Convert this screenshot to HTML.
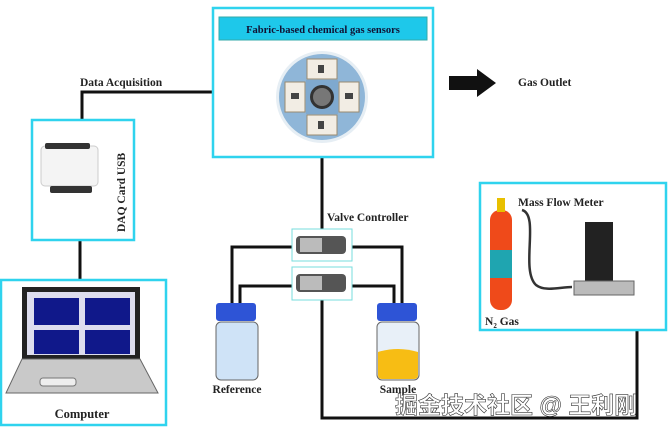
<!DOCTYPE html>
<html><head><meta charset="utf-8"><style>
html,body{margin:0;padding:0;background:#fff}
svg{display:block}
text{font-family:"Liberation Serif",serif;font-weight:bold}
</style></head><body>
<svg width="671" height="432" viewBox="0 0 671 432" xmlns="http://www.w3.org/2000/svg">
<rect width="671" height="432" fill="#fff"/>
<g stroke="#111" stroke-width="3" fill="none">
<polyline points="214,92 82,92 82,120"/>
<line x1="80" y1="240" x2="80" y2="281"/>
<line x1="322" y1="157" x2="322" y2="230"/>
<polyline points="293,247 232,247 232,305"/>
<polyline points="293,286 240,286 240,305"/>
<polyline points="351,247 402,247 402,305"/>
<polyline points="351,286 394,286 394,305"/>
<polyline points="322,300 322,418 637,418 637,288"/>
</g>
<rect x="213" y="8" width="220" height="149" fill="#fff" stroke="#2fd3ee" stroke-width="2.5"/>
<rect x="219" y="17" width="208" height="23" fill="#1ec8ea" stroke="#3aa" stroke-width="1"/>
<text x="323" y="33" font-size="10.5" text-anchor="middle" fill="#113">Fabric-based chemical gas sensors</text>
<circle cx="322" cy="97" r="46" fill="#e6eef4"/>
<circle cx="322" cy="97" r="43" fill="#8fb6d8"/>
<rect x="306" y="80" width="32" height="34" fill="#7fa9cf"/>
<circle cx="322" cy="97" r="12" fill="#333"/><circle cx="322" cy="97" r="9" fill="#777"/>
<g fill="#f2ede4" stroke="#9a8a70" stroke-width="1">
<rect x="307" y="59" width="30" height="20"/><rect x="307" y="115" width="30" height="20"/>
<rect x="285" y="82" width="20" height="30"/><rect x="339" y="82" width="20" height="30"/>
</g>
<g fill="#444"><rect x="318" y="65" width="6" height="8"/><rect x="318" y="121" width="6" height="8"/><rect x="291" y="93" width="8" height="6"/><rect x="345" y="93" width="8" height="6"/></g>
<polygon points="449,76 477,76 477,69 496,83 477,97 477,90 449,90" fill="#111"/>
<text x="518" y="86" font-size="11.5" fill="#222">Gas Outlet</text>
<text x="80" y="86" font-size="11.5" fill="#222">Data Acquisition</text>
<rect x="32" y="120" width="102" height="120" fill="#fff" stroke="#2fd3ee" stroke-width="2.5"/>
<rect x="41" y="146" width="57" height="40" rx="4" fill="#f4f4f4" stroke="#ccc"/>
<rect x="45" y="143" width="45" height="6" rx="2" fill="#333"/>
<rect x="50" y="186" width="42" height="7" rx="2" fill="#333"/>
<text transform="translate(125,232) rotate(-90)" font-size="11.5" fill="#222">DAQ Card USB</text>
<rect x="1" y="280" width="165" height="145" fill="#fff" stroke="#2fd3ee" stroke-width="2.5"/>
<rect x="22" y="287" width="118" height="72" fill="#222"/>
<rect x="27" y="292" width="108" height="63" fill="#dde"/>
<g fill="#10188a"><rect x="34" y="298" width="45" height="27"/><rect x="85" y="298" width="45" height="27"/><rect x="34" y="330" width="45" height="24"/><rect x="85" y="330" width="45" height="24"/></g>
<polygon points="22,359 140,359 158,393 6,393" fill="#c9c9c9" stroke="#666"/>
<rect x="40" y="378" width="36" height="8" rx="3" fill="#eee" stroke="#777"/>
<text x="82" y="418" font-size="12.5" text-anchor="middle" fill="#222">Computer</text>
<g stroke="#7dd" stroke-width="1" fill="#fff">
<rect x="292" y="229" width="60" height="32"/><rect x="292" y="267" width="60" height="33"/></g>
<g fill="#555"><rect x="296" y="236" width="50" height="18" rx="4"/><rect x="296" y="274" width="50" height="18" rx="4"/></g>
<g fill="#bbb"><rect x="300" y="238" width="22" height="14"/><rect x="300" y="276" width="22" height="14"/></g>
<text x="327" y="221" font-size="11.5" fill="#222">Valve Controller</text>
<rect x="216" y="303" width="40" height="18" rx="3" fill="#2e54d6"/>
<rect x="216" y="322" width="42" height="58" rx="5" fill="#cfe3f7" stroke="#666"/>
<rect x="377" y="303" width="40" height="18" rx="3" fill="#2e54d6"/>
<rect x="377" y="322" width="42" height="58" rx="5" fill="#e8f0f8" stroke="#666"/>
<path d="M378,352 Q398,346 418,352 L418,375 Q418,379 414,379 L382,379 Q378,379 378,375Z" fill="#f7bd14"/>
<text x="237" y="393" font-size="11.5" text-anchor="middle" fill="#222">Reference</text>
<text x="398" y="393" font-size="11.5" text-anchor="middle" fill="#222">Sample</text>
<rect x="480" y="183" width="186" height="147" fill="#fff" stroke="#2fd3ee" stroke-width="2.5"/>
<rect x="490" y="210" width="22" height="100" rx="10" fill="#ef4a1a"/>
<rect x="490" y="250" width="22" height="28" fill="#1fa5b0"/>
<rect x="497" y="198" width="8" height="14" fill="#e8c000"/>
<path d="M522,210 C540,215 520,270 536,285 C545,292 560,287 572,287" stroke="#333" stroke-width="2.5" fill="none"/>
<rect x="585" y="222" width="28" height="60" fill="#222"/>
<rect x="574" y="281" width="60" height="14" fill="#bbb" stroke="#666"/>
<text x="518" y="206" font-size="11.5" fill="#222">Mass Flow Meter</text>
<text x="485" y="325" font-size="11.5" fill="#222">N<tspan font-size="7" dy="3">2</tspan><tspan dy="-3"> Gas</tspan></text>
<text x="395" y="413" font-size="23" font-weight="normal" style="font-family:'Liberation Sans','Noto Sans CJK SC',sans-serif" fill="#fff" stroke="#333" stroke-width="0.6">掘金技术社区 @ 王利刚</text>
</svg>
</body></html>
